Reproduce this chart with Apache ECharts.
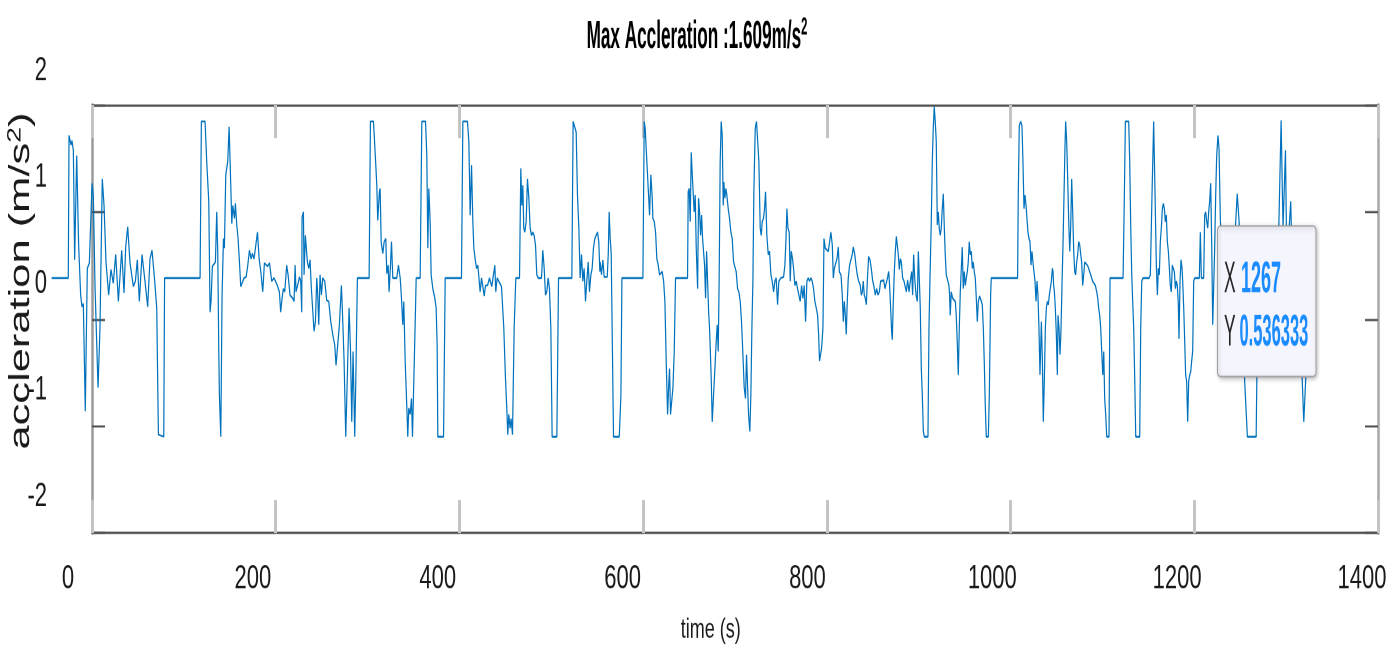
<!DOCTYPE html>
<html>
<head>
<meta charset="utf-8">
<script src="https://cdn.jsdelivr.net/npm/echarts@6/dist/echarts.min.js"></script>
<style>
html,body{margin:0;padding:0;background:#fff;overflow:hidden;}
#wrap{width:1390px;height:655px;overflow:hidden;position:relative;background:#fff;}
#chart{width:1390px;height:437px;transform:scaleY(1.49886);transform-origin:0 0;}
</style>
</head>
<body>
<div id="wrap"><div id="chart"></div></div>
<script>
// ---- data: [time (s), acceleration (m/s^2)] ----
const xTicks = [0, 200, 400, 600, 800, 1000, 1200, 1400];
const yTicks = [-2, -1, 0, 1, 2];
const maxAccel = 1.609;
const dataTip = [1267, 0.536333];
const xName = 'time (s)';
const yName = ['accleration (m/s', '2', ')'];

const seg1 = [[-17.7,0],[0.3,0],[1.1,1.34],[2.1,1.32],[3.2,1.25],[4.3,1.29],[5.8,1.2],[7.2,0.17],[9.4,1.15],[11.5,0.31],[13.7,-0.16],[15.1,-0.27],[16.6,-0.24],[18.7,-1.25],[20.9,0.09],[23.1,0.14],[26,0.89],[27.4,0.78],[29.2,-0.07],[32.5,-1.03],[34.6,-0.47],[37.1,0.93],[39,0.68],[41.1,0.15],[44,-0.16],[46.5,0.08],[49,-0.05],[51.6,0.22],[54.5,-0.22],[58.1,0.26],[60.6,-0.14],[62.4,0.29],[64.6,0.48],[67.1,0.14],[70.7,-0.08],[72.9,-0.03],[75,0.17],[77.2,-0.22],[80.1,0.22],[83.3,-0.03],[86.2,-0.27],[88.7,0.18],[90.9,0.26],[93.8,-0.03],[96,-0.28],[97.8,-1.47]];
const seg2 = [[99.6,-1.49],[103.6,-1.49],[104.5,0],[142.9,0],[144.3,1.47],[148.3,1.47],[150.1,1.09],[152.3,0.72],[153.7,-0.32],[154.8,-0.21],[156.2,0.11],[157.7,0.09],[159.5,0.15],[160.9,0.62],[162,0.25],[163.1,-0.66],[163.8,-1.1],[165.3,-1.49],[166.7,-0.16],[168.2,0.37],[169.2,0.28],[170.7,0.97],[172.8,1.09],[174.3,1.42],[176.1,0.87],[177.2,0.51],[178.3,0.68],[180.1,0.56],[181.1,0.7],[182.6,0.5],[184,0.37],[185.5,0.15],[186.9,-0.08],[188.7,-0.07],[190.5,0],[192.7,0.01],[194.5,0.12],[196.3,0.26],[198.1,0.18],[199.5,0.23],[201.3,0.18],[203.2,0.31],[205,0.43],[206.8,0.18],[208.6,0.06],[210.7,-0.13],[212.5,0.14],[214.3,0.15],[215.8,0.11],[218,0.14]];
const seg3 = [[218.6,0.12],[220.4,-0.03],[222.9,0],[226.5,-0.07],[228.7,-0.13],[230.1,-0.32],[231.6,-0.19],[233,-0.1],[234.5,-0.13],[236.6,0.12],[238.1,0.03],[240.2,-0.16],[243.1,-0.19],[244.6,-0.22],[245.7,0.12],[246.7,-0.13],[248.9,-0.05],[250.4,0.01],[251.8,-0.03],[252.9,-0.32],[253.2,0.57],[254.7,0.62],[255.4,0.03],[256.8,0.4],[259,0.15],[260.5,0.09],[261.9,0.17],[263.3,-0.1],[266.2,-0.5],[267.7,-0.41],[269.1,0],[270.2,-0.16],[271.3,-0.44],[272.7,0.03],[274.2,-0.16],[275.6,0],[277.8,-0.03],[279.9,-0.21],[282.1,-0.22],[284.3,-0.41],[286.4,-0.53],[288.6,-0.63],[290,-0.82],[291.5,-0.66],[293.6,-0.44],[295.8,-0.07],[297.3,-0.41],[298.7,-0.78],[300.5,-1.49],[302,-1],[304.1,-0.28],[305.6,-0.66],[307,-1.35],[308.4,-0.69],[310.2,-1.49],[311.3,-1],[313.1,0],[325.8,0],[327.2,1.47],[330.5,1.47],[332.3,1.18],[334.1,0.87],[335.1,0.54],[336.9,0.81]];
const seg4 = [[337.7,0.84],[338.8,0.34],[340.6,0.23],[342,0.34],[343.8,0.37],[344.9,0.04],[346.4,0.12],[347.4,-0.13],[348.9,0.12],[350,0.34],[351.4,0],[355.7,0],[357.5,0.12],[359.4,0],[360.8,-0.19],[362.2,-0.44],[363.3,-0.22],[364.8,-0.78],[366.6,-1.22],[367.6,-1.49],[368.7,-1.22],[370.2,-1.28],[371.6,-1.13],[372.7,-1.49],[374.5,-1.49],[375.9,-0.32],[376.7,0],[381,0],[382.8,1.47],[386.8,1.47],[388.2,1.15],[389.3,0.28],[390.4,0.84],[391.8,0.53],[392.9,0.03],[394.7,-0.1],[396.9,-0.19],[398.3,-0.28],[399.4,-0.63],[400.1,-1.49],[406.3,-1.49],[408.1,0],[425.7,0],[427.2,1.47],[432.2,1.47],[433.7,1.28],[435.1,0.59],[436.6,1.06],[438,0.53],[439.1,0.28],[440.5,0.18],[442,0.09],[443.4,0.12],[444.9,-0.03],[445.9,-0.13],[447.4,0],[448.8,-0.08],[450.3,-0.17],[451.7,-0.07],[453.9,-0.07],[456,0]];
const seg5 = [[456.7,0],[458.5,-0.08],[460.3,0.03],[461.8,0.12],[462.8,-0.13],[464.3,0],[466.1,-0.03],[467.5,-0.02],[469,-0.08],[470,-0.07],[471.5,-0.47],[473.3,-0.94],[474.7,-1.22],[475.8,-1.47],[476.9,-1.28],[478.3,-1.41],[479.4,-1.32],[480.9,-1.47],[482.7,-0.47],[484.5,0],[488.5,0],[489.9,1.03],[491,0.68],[492.1,0.87],[493.1,0.47],[494.2,0.43],[495.7,0.53],[497.1,0.93],[498.6,0.75],[500,0.47],[501.4,0.4],[502.9,0.43],[504.3,0.4],[505.8,0.31],[507.2,0.03],[508.7,0],[512.3,0],[513.7,0.26],[515.2,0.09],[516.6,-0.16],[518,-0.13],[519.5,0],[520.9,-0.1],[522.4,-0.47],[523.8,-1.49],[528.9,-1.49],[530.7,0],[545.1,0],[546.5,1.47],[548.3,1.47],[549.8,1.37],[551.2,0.78],[552.7,0.47],[554.1,0],[555.6,0.22],[557,-0.03],[558.4,0.09],[559.9,-0.22],[561.3,-0.03],[562.8,0.15],[564.2,-0.13],[565.7,0.03],[567.1,0.09],[568.5,0.28],[570,0.37],[571.4,0.4],[572.9,0.43],[574.3,0.34],[575.4,0.06]];
const seg6 = [[575.8,0.15],[577.2,0.03],[578.7,0.17],[580.1,0.01],[581.9,0],[583.4,0.01],[584.5,0.22],[585.5,0.62],[586.6,0.37],[587.7,0.23],[589.2,0.22],[590.2,-1.49],[596.4,-1.49],[598.2,-1.1],[599.3,0],[622,0],[623.4,1.47],[624.5,1.4],[626.3,1.09],[628.1,0.78],[629.2,0.59],[630.6,0.97],[632.1,0.75],[632.8,0.56],[634.3,0.53],[635.7,0.43],[637.1,0.18],[638.6,0.12],[640,0.03],[641.5,0.03],[642.9,0.06],[644.4,-0.03],[645.8,-0.22],[647.2,-0.78],[648.7,-1.28],[649.8,-1.03],[650.8,-0.85],[651.9,-1.28],[653.4,-1.28],[654.5,-1.03],[655.9,-0.69],[657.3,0],[670.3,0],[671,0.81],[672.1,0.84],[673.2,0.53],[674.3,1.18],[675.4,0.97],[676.5,0.97],[677.5,0.62],[678.6,0.78],[679.7,0.28],[681.2,-0.1],[682.2,0.75],[683.3,0.62],[684.4,0.4],[685.5,0.59],[686.6,0.37],[687.6,0.25],[688.7,0.12],[689.8,-0.19],[690.9,0.25],[692,-0.03],[693.1,-0.32],[694.1,-0.47]];
const seg7 = [[694.8,-0.47],[695.9,-0.94],[697,-1.35],[698.4,-1.35],[699.9,-0.85],[701.3,-0.6],[702.4,-0.44],[703.5,-0.69],[704.5,0],[705.6,1.09],[706.7,1.47],[707.8,1.34],[708.9,0.68],[709.6,0.9],[710.7,0.75],[711.8,0.84],[712.8,0.78],[714.3,0.65],[715.7,0.56],[717.2,0.43],[718.6,0.37],[720.1,0.15],[721.5,0.14],[722.9,0.06],[724.4,-0.1],[725.8,-0.13],[727.3,-0.22],[728.7,-0.41],[730.2,-0.72],[731.6,-1.03],[733,-1.13],[734.1,-0.72],[735.2,-1],[736.3,-1.28],[737.7,-1.44],[738.8,-1.1],[739.9,-0.47],[741,-0.03],[742,0.78],[743.5,1.4],[744.9,1.47],[746.4,1.45],[747.5,1.09],[748.9,0.47],[750,0.4],[751.1,0.53],[752.5,0.56],[753.6,0.65],[754.7,0.81],[756.1,0.4],[757.6,0.22],[759,0.25],[760.5,0.03],[761.9,-0.03],[763.4,-0.13],[764.8,-0.03],[766.2,0],[767.7,-0.25],[769.1,-0.03],[771.3,0],[774.2,0.01],[775.6,0.12],[776.7,0.34],[777.8,0.65],[778.9,0.47],[780.3,0.43],[781.4,-0.03],[782.5,0.25],[783.9,0.18],[785,0.09],[786.4,-0.07],[787.9,-0.03],[789.3,-0.1],[790.8,-0.11],[792.2,-0.22],[793.7,-0.07],[795.1,-0.19],[796.5,-0.07],[798,-0.41],[799.4,-0.03],[800.9,0],[802.3,-0.03],[803.8,0],[805.2,-0.03],[806.6,-0.1],[808.1,-0.22],[809.5,-0.28],[811,-0.35],[812.1,-0.53],[813.1,-0.78]];
const seg8 = [[813.9,-0.78],[815.3,-0.66],[816.8,-0.47],[817.9,0.37],[819.3,0.28],[821.1,0.26],[822.6,0.25],[824,0.34],[825.4,0.43],[826.9,0.31],[828,0],[829.1,0.09],[830.5,0.09],[831.9,0.18],[833.4,0.29],[834.5,0.06],[836.3,0.03],[837.7,-0.16],[838.8,-0.41],[839.9,-0.22],[841,-0.35],[842,-0.53],[843.1,-0.22],[844.2,0],[845.6,0.12],[847.1,0.12],[848.5,0.22],[849.6,0.29],[851.1,0.23],[852.5,0.12],[853.9,0.03],[855.4,-0.03],[857.2,-0.07],[858.3,-0.16],[859.4,-0.13],[860.4,-0.03],[861.5,-0.16],[862.6,-0.19],[863.7,-0.25],[864.8,-0.03],[866.2,0.2],[867.7,0.17],[869.1,0.09],[870.5,-0.02],[872,-0.08],[873.4,-0.16],[874.9,-0.1],[876.3,-0.16],[877.8,-0.13],[879.2,-0.03],[881,-0.03],[882.5,-0.02],[883.9,-0.1],[885.3,-0.1],[886.8,0.01],[887.9,0.06],[888.9,-0.07],[890,-0.28],[891.1,-0.5],[891.8,-0.58],[892.9,-0.22],[894,0.06],[895.1,0.25],[896.2,0.39],[897.2,0.31],[898.3,0.22],[899.4,0.08],[900.5,0.18],[901.6,0.15],[903,0],[904.5,-0.03],[905.9,-0.03],[907,-0.13],[908.4,-0.02],[909.9,-0.13],[911.3,-0.03],[912.8,0.06],[913.8,-0.16],[914.9,0.22],[916,0.01],[917.5,-0.16],[918.9,-0.22],[920,0.25],[921.1,0.23],[922.1,-0.28],[923.2,-0.85],[924.3,-1.1],[925.4,-1.44],[926.5,-1.49],[930.4,-1.49],[931.5,-0.47],[932.6,0]];
const seg9 = [[932.9,0],[934,0.53],[935.1,1.09],[936.1,1.4],[937.2,1.609],[938.3,1.47],[939.4,1.28],[940.5,0.5],[941.6,0.62],[942.6,0.47],[943.7,0.4],[944.8,0.47],[945.9,0.65],[947,0.79],[948.1,0.47],[949.1,0.22],[950.2,0.03],[951.7,-0.02],[953.1,-0.07],[953.8,-0.16],[954.5,-0.35],[955.6,-0.13],[957.1,-0.19],[958.5,-0.17],[960,-0.22],[961,-0.35],[962.1,-0.6],[963.2,-0.91],[964.3,-0.47],[965.4,-0.13],[966.5,0.09],[967.5,0.29],[968.6,-0.1],[969.7,0.06],[970.8,-0.07],[971.9,0],[973,0.06],[974,0.15],[975.1,0.34],[976.2,0.22],[977.3,0.25],[978.4,0.09],[979.4,0.15],[980.5,0.06],[981.6,0],[982.7,-0.19],[983.8,-0.41],[984.9,-0.22],[986.3,-0.17],[987.7,-0.19],[989.2,-0.25],[990.3,-0.47],[991.3,-0.78],[992.4,-1.19],[993.5,-1.49],[995.7,-1.49],[996.8,-1.1],[998.2,-0.16],[998.9,0],[1027.4,0],[1028.1,0.78],[1029.2,1.43],[1030.7,1.47],[1032.1,1.43],[1033.2,1.09],[1034.3,0.65],[1035.4,0.78],[1036.5,0.68],[1037.5,0.56],[1038.6,0.43],[1039.7,0.37],[1040.8,0.34],[1041.9,0.12],[1042.9,0.25],[1044,0.15],[1045.1,0.06],[1046.2,-0.03],[1047.3,-0.22],[1048.4,-0.03],[1049.4,-0.16],[1050.5,-0.47],[1051.6,-0.91]];
const seg10 = [[1052,-0.91],[1053.1,-0.41],[1054.2,-0.78],[1055.2,-1.35],[1056.3,-0.97],[1057.4,-0.47],[1058.5,-0.28],[1059.6,-0.22],[1060.7,-0.25],[1061.7,-0.16],[1062.8,-0.16],[1063.9,-0.03],[1065,0.09],[1065.7,0.06],[1066.4,-0.07],[1067.2,-0.13],[1068.2,-0.28],[1069.3,-0.53],[1070.4,-0.91],[1071.1,-0.35],[1072.2,-0.47],[1073.3,-0.72],[1074.4,-0.47],[1075.5,-0.03],[1076.5,0.31],[1077.6,0.78],[1078.7,1.25],[1079.4,1.47],[1080.5,1.28],[1081.6,0.93],[1082.7,0.53],[1083.8,0.25],[1084.8,0.47],[1085.9,0.93],[1087,0.62],[1088.1,0.25],[1089.2,0.06],[1090.2,0.03],[1091.3,0.15],[1092.4,0.22],[1093.5,0.34],[1094.6,0.31],[1095.7,0.22],[1096.7,0.15],[1097.8,-0.07],[1098.9,0.03],[1100,0.15],[1101.4,0.15],[1102.9,0.12],[1104.3,0.09],[1105.8,0.08],[1107.2,0.01],[1108.6,-0.03],[1110.1,-0.03],[1111.5,-0.07],[1113,-0.13],[1114.1,-0.19],[1115.1,-0.28],[1116.2,-0.35],[1117.3,-0.47],[1118.4,-0.69],[1119.5,-0.91],[1120.6,-0.69],[1121.6,-1.13],[1122.7,-1.28],[1123.8,-1.49],[1126.3,-1.49],[1127.4,0],[1141.5,0],[1142.9,0.78],[1144,1.47],[1147.6,1.47],[1148.7,1.09],[1149.8,0.47],[1150.9,0.03],[1151.9,-0.22],[1153,-0.47],[1154.1,-0.94],[1155.2,-1.49],[1159.5,-1.49],[1160.6,-0.47],[1161.7,-0.03],[1163.1,0],[1169.6,0]];
const seg11 = [[1171,0.03],[1172.8,0.78],[1174.6,1.47],[1176.1,0.78],[1177.5,0.12],[1178.6,-0.16],[1179.7,0.09],[1180.7,0.03],[1181.8,0.34],[1182.9,0.47],[1184,0.65],[1185.1,0.7],[1186.2,0.65],[1187.2,0.53],[1188.3,0.59],[1189.4,0.34],[1190.5,0.25],[1191.6,0.09],[1192.6,-0.07],[1193.7,-0.13],[1194.8,0.12],[1195.9,0.09],[1197,0.06],[1198.1,-0.1],[1199.1,-0.03],[1200.2,-0.07],[1201.3,-0.25],[1202,-0.57],[1203.1,-0.03],[1204.2,0.17],[1205.3,0.09],[1206,-0.03],[1207.1,-0.28],[1208.2,-0.6],[1209.2,-0.91],[1210.3,-0.97],[1211.4,-1.35],[1212.5,-0.97],[1213.6,-0.91],[1214.7,-0.88],[1215.7,-0.78],[1216.8,-0.69],[1217.9,-0.03],[1219,0],[1224,0],[1225.1,0.43],[1226.2,0],[1228.7,0],[1229.8,0.59],[1230.9,0.62],[1232,0.53],[1233.1,0.47],[1234.1,0.62],[1235.2,0.72],[1236.3,0.89],[1237.4,0.31],[1238.5,-0.44],[1239.6,-0.44],[1240.6,0.28],[1241.7,0.78],[1242.8,1.15],[1244.2,1.34],[1245.3,1.22],[1246.8,0.53]];
const seg12 = [[1250,0.2],[1254,-0.2],[1258,0.1],[1262,0.3],[1265,0.79],[1267,0.536333],[1271,-0.6],[1276,-1.49],[1285.5,-1.49],[1287.5,0],[1300,0],[1306,0.2],[1310,0.48],[1312.5,1.48],[1313.9,0.78],[1314.6,0.48],[1317.2,1.2],[1318.2,0.48],[1320,0.3],[1322.9,0.72],[1324,0.3],[1328,0],[1332,-0.5],[1335.2,-0.93],[1337,-1.35],[1339.2,-0.93],[1342,-0.6]];

const samples = [].concat(seg1, seg2, seg3, seg4, seg5, seg6, seg7, seg8, seg9, seg10, seg11, seg12);

// ---- layout (the reference picture is stretched vertically; we draw unstretched, then scale) ----
const S = 655 / 437;
const H = 437;
const X_START = -20;               // the recording starts a little before the "0" tick
const PX_PER_S = 1294 / 1400;      // horizontal scale of the reference
const GRID_LEFT = 68 + X_START * PX_PER_S;
const FONT = "'Liberation Sans', Arial, Helvetica, sans-serif";
const TXT = '#1a1a1a';

const chart = echarts.init(document.getElementById('chart'), null, {renderer: 'canvas', width: 1390, height: H, devicePixelRatio: 2});

const boxAxisX = (pos) => ({
  type: 'value', gridIndex: 1, position: pos,
  min: xTicks[0], max: xTicks[xTicks.length - 1], interval: xTicks[1] - xTicks[0],
  axisLine: {show: true, onZero: false, lineStyle: {color: '#505050', width: 1.4}},
  axisTick: {show: true, inside: true, length: 33 / S, lineStyle: {color: '#c4c4c4', width: 3}},
  axisLabel: {show: false}, splitLine: {show: false}
});
const boxAxisY = (pos, col) => ({
  type: 'value', gridIndex: 1, position: pos,
  min: 0, max: yTicks.length - 1, interval: 1,
  axisLine: {show: true, onZero: false, lineStyle: {color: col, width: 2.5}},
  axisTick: {show: true, inside: true, length: 13, lineStyle: {color: '#505050', width: 1.4}},
  axisLabel: {show: false}, splitLine: {show: false}
});

const option = {
  backgroundColor: '#fff',
  animation: false,
  grid: [
    {left: GRID_LEFT, right: 28, top: 65 / S, bottom: H - 491 / S, containLabel: false, outerBoundsMode: 'none'},
    {left: 92, right: 12, top: 105 / S, bottom: H - 533 / S, containLabel: false, outerBoundsMode: 'none'}
  ],
  xAxis: [
    {
      type: 'value', gridIndex: 0,
      min: X_START, max: xTicks[xTicks.length - 1],
      axisLine: {show: false}, axisTick: {show: false}, splitLine: {show: false},
      axisLabel: {margin: 48, fontSize: 22, color: TXT, fontFamily: FONT, customValues: xTicks, formatter: (v) => String(v)},
      name: xName, nameLocation: 'middle', nameGap: 84,
      nameTextStyle: {fontSize: 18, color: TXT, fontFamily: FONT, padding: [0, 0, 0, 10]}
    },
    boxAxisX('bottom'),
    boxAxisX('top')
  ],
  yAxis: [
    {
      type: 'value', gridIndex: 0,
      min: yTicks[0], max: yTicks[yTicks.length - 1], interval: yTicks[1] - yTicks[0],
      axisLine: {show: false}, axisTick: {show: false}, splitLine: {show: false},
      axisLabel: {
        margin: 21 - (68 - GRID_LEFT), color: TXT, fontFamily: FONT, fontSize: 22, align: 'right',
        formatter: (v) => '{v|' + v + '}',
        rich: {v: {fontSize: 22, color: TXT, fontFamily: FONT, padding: [8, 0, 0, 0]}}
      }
    },
    boxAxisY('left', '#9a9a9a'),
    boxAxisY('right', '#a8a8a8')
  ],
  series: [{
    name: 'acceleration', type: 'line', xAxisIndex: 0, yAxisIndex: 0,
    data: samples, showSymbol: false, symbol: 'none', clip: false, z: 2,
    lineStyle: {color: '#0072BD', width: 1.2}
  }],
  graphic: [
    {
      // chart title (condensed bold, as in the reference)
      type: 'text', x: 697, y: 37 / S, scaleX: 0.66, z: 50,
      style: {
        text: '{a|Max Accleration :' + maxAccel + 'm/s}{b|2}',
        align: 'center', verticalAlign: 'middle',
        rich: {
          a: {fontFamily: FONT, fontWeight: 'bold', fontSize: 26, fill: '#000', lineHeight: 30},
          b: {fontFamily: FONT, fontWeight: 'bold', fontSize: 17, fill: '#000', lineHeight: 15, verticalAlign: 'top'}
        }
      }
    },
    {
      // y-axis title, rotated
      type: 'text', x: 21, y: 281 / S, rotation: Math.PI / 2, z: 50,
      style: {
        text: '{a|' + yName[0] + '}{s|' + yName[1] + '}{a|' + yName[2] + '}',
        align: 'center', verticalAlign: 'middle',
        rich: {
          a: {fontSize: 29, fill: TXT, fontFamily: FONT, lineHeight: 30},
          s: {fontSize: 19, fill: TXT, fontFamily: FONT, lineHeight: 16, verticalAlign: 'top'}
        }
      }
    },
    {type: 'rect', z: 100, shape: {x: 1217.5, y: 226 / S, width: 98.5, height: 150.5 / S, r: 3},
     style: {fill: '#f5f5fd', stroke: '#a0a0a0', lineWidth: 1, shadowBlur: 3, shadowOffsetX: 1, shadowOffsetY: 1, shadowColor: 'rgba(0,0,0,0.25)'}},
    {type: 'text', z: 101, x: 1224, y: 280 / S, scaleX: 0.58,
     style: {text: 'X', fontSize: 30, fontFamily: FONT, fill: '#262626', verticalAlign: 'middle', align: 'left'}},
    {type: 'text', z: 101, x: 1241, y: 280 / S, scaleX: 0.6,
     style: {text: String(dataTip[0]), fontSize: 30, fontWeight: 'bold', fontFamily: FONT, fill: '#1a8cff', verticalAlign: 'middle', align: 'left'}},
    {type: 'text', z: 101, x: 1224, y: 333 / S, scaleX: 0.58,
     style: {text: 'Y', fontSize: 30, fontFamily: FONT, fill: '#262626', verticalAlign: 'middle', align: 'left'}},
    {type: 'text', z: 101, x: 1239.5, y: 333 / S, scaleX: 0.55,
     style: {text: String(dataTip[1]), fontSize: 30, fontWeight: 'bold', fontFamily: FONT, fill: '#1a8cff', verticalAlign: 'middle', align: 'left'}}
  ]
};
chart.setOption(option);
</script>
</body>
</html>
